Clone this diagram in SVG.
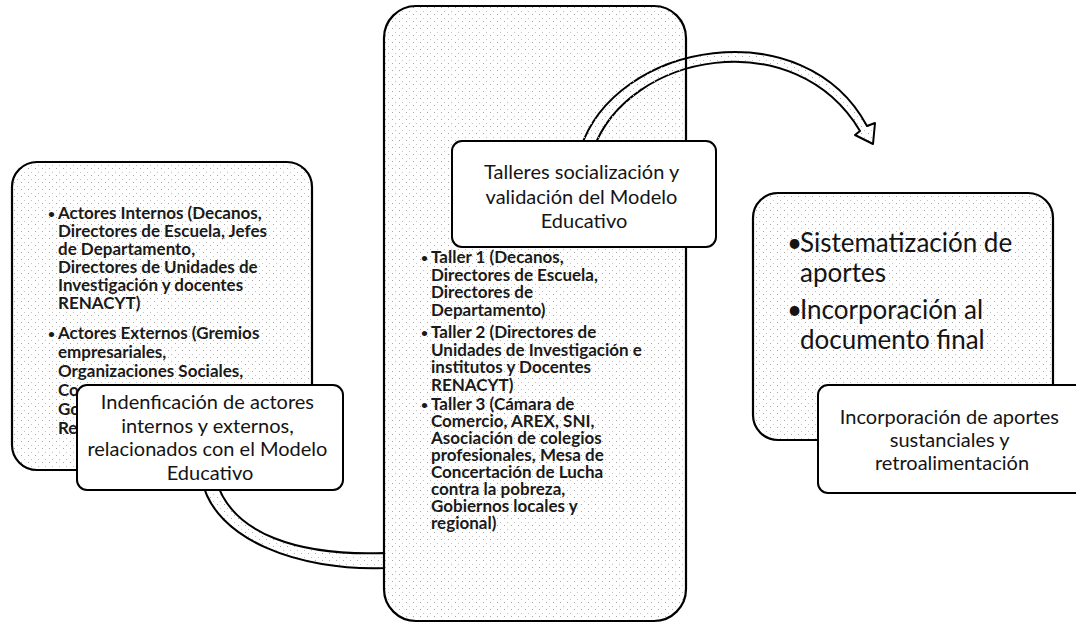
<svg xmlns="http://www.w3.org/2000/svg" width="1076" height="623" viewBox="0 0 1076 623">
<defs>
<pattern id="dots" width="7" height="7" patternUnits="userSpaceOnUse">
<rect x="0" y="0" width="1" height="1" fill="#a8a8a8"/>
<rect x="3" y="4" width="1" height="1" fill="#c0c0c0"/>
</pattern>
<style>
.box{fill:url(#dots);stroke:#000;stroke-width:2.2}
.lbl{fill:#fff;stroke:#000;stroke-width:2}
.arrow{fill:url(#dots);stroke:#000;stroke-width:2;stroke-linejoin:round}
.list{font-family:Lato,"Liberation Sans",sans-serif;font-size:17px;font-weight:bold;fill:#1a1a1a}
.bul{font-size:12px}
.lt{font-family:Lato,"Liberation Sans",sans-serif;font-size:20px;text-anchor:middle;fill:#141414}
.big{font-family:Lato,"Liberation Sans",sans-serif;font-size:26px;fill:#141414}
</style>
</defs>
<g id="connectors">
<path class="arrow" d="M580,150 C615,40 805,10 867,126 L875,123 L873,144 L855,135 L860,131 C795,22 628,52 593,150 Z"/>
<path class="arrow" d="M202,480 C214,540 300,571 384,568 L384,553 C300,556 232,535 216,480 Z"/>
</g>
<g id="node-actores">
<rect class="box" x="12" y="162" width="300" height="308" rx="25"/>
<text class="list">
<tspan class="bul" x="48" y="218">•</tspan><tspan x="58" y="219">Actores Internos (Decanos,</tspan>
<tspan x="58" y="237">Directores de Escuela, Jefes</tspan>
<tspan x="58" y="255">de Departamento,</tspan>
<tspan x="58" y="273">Directores de Unidades de</tspan>
<tspan x="58" y="291">Investigación y docentes</tspan>
<tspan x="58" y="309">RENACYT)</tspan>
<tspan class="bul" x="48" y="338">•</tspan><tspan x="58" y="339">Actores Externos (Gremios</tspan>
<tspan x="58" y="358">empresariales,</tspan>
<tspan x="58" y="377">Organizaciones Sociales,</tspan>
<tspan x="58" y="396">Co</tspan>
<tspan x="58" y="415">Go</tspan>
<tspan x="58" y="434">Re</tspan>
</text>
<rect class="lbl" x="77" y="385" width="266" height="105" rx="10"/>
<text class="lt">
<tspan x="210" y="409">Indenficación de actores</tspan>
<tspan x="210" y="432.5">internos y externos,</tspan>
<tspan x="210" y="456">relacionados con el Modelo</tspan>
<tspan x="210" y="480">Educativo</tspan>
</text>
</g>
<g id="node-talleres">
<rect class="box" x="384" y="6" width="302" height="615" rx="32"/>
<text class="list">
<tspan class="bul" x="421" y="262">•</tspan><tspan x="431" y="263">Taller 1 (Decanos,</tspan>
<tspan x="431" y="280.5">Directores de Escuela,</tspan>
<tspan x="431" y="298">Directores de</tspan>
<tspan x="431" y="315.5">Departamento)</tspan>
<tspan class="bul" x="421" y="337">•</tspan><tspan x="431" y="338">Taller 2 (Directores de</tspan>
<tspan x="431" y="355.5">Unidades de Investigación e</tspan>
<tspan x="431" y="373">institutos y Docentes</tspan>
<tspan x="431" y="390.5">RENACYT)</tspan>
<tspan class="bul" x="421" y="409">•</tspan><tspan x="431" y="410">Taller 3 (Cámara de</tspan>
<tspan x="431" y="427">Comercio, AREX, SNI,</tspan>
<tspan x="431" y="444">Asociación de colegios</tspan>
<tspan x="431" y="461">profesionales, Mesa de</tspan>
<tspan x="431" y="478">Concertación de Lucha</tspan>
<tspan x="431" y="495">contra la pobreza,</tspan>
<tspan x="431" y="512">Gobiernos locales y</tspan>
<tspan x="431" y="529">regional)</tspan>
</text>
<rect class="lbl" x="452" y="141" width="264" height="106" rx="10"/>
<text class="lt">
<tspan x="584" y="179">Talleres socialización y</tspan>
<tspan x="584" y="204">validación del Modelo</tspan>
<tspan x="584" y="228">Educativo</tspan>
</text>
</g>
<g id="node-incorporacion">
<rect class="box" x="753" y="193" width="300" height="247" rx="25"/>
<text class="big">
<tspan x="787" y="252">•</tspan><tspan x="800" y="252">Sistematización de</tspan>
<tspan x="800" y="282">aportes</tspan>
<tspan x="787" y="319">•</tspan><tspan x="800" y="319">Incorporación al</tspan>
<tspan x="800" y="349">documento final</tspan>
</text>
<rect class="lbl" x="818" y="385" width="268" height="108" rx="10"/>
<text class="lt">
<tspan x="952" y="424">Incorporación de aportes</tspan>
<tspan x="952" y="447">sustanciales y</tspan>
<tspan x="952" y="470">retroalimentación</tspan>
</text>
</g>
</svg>
